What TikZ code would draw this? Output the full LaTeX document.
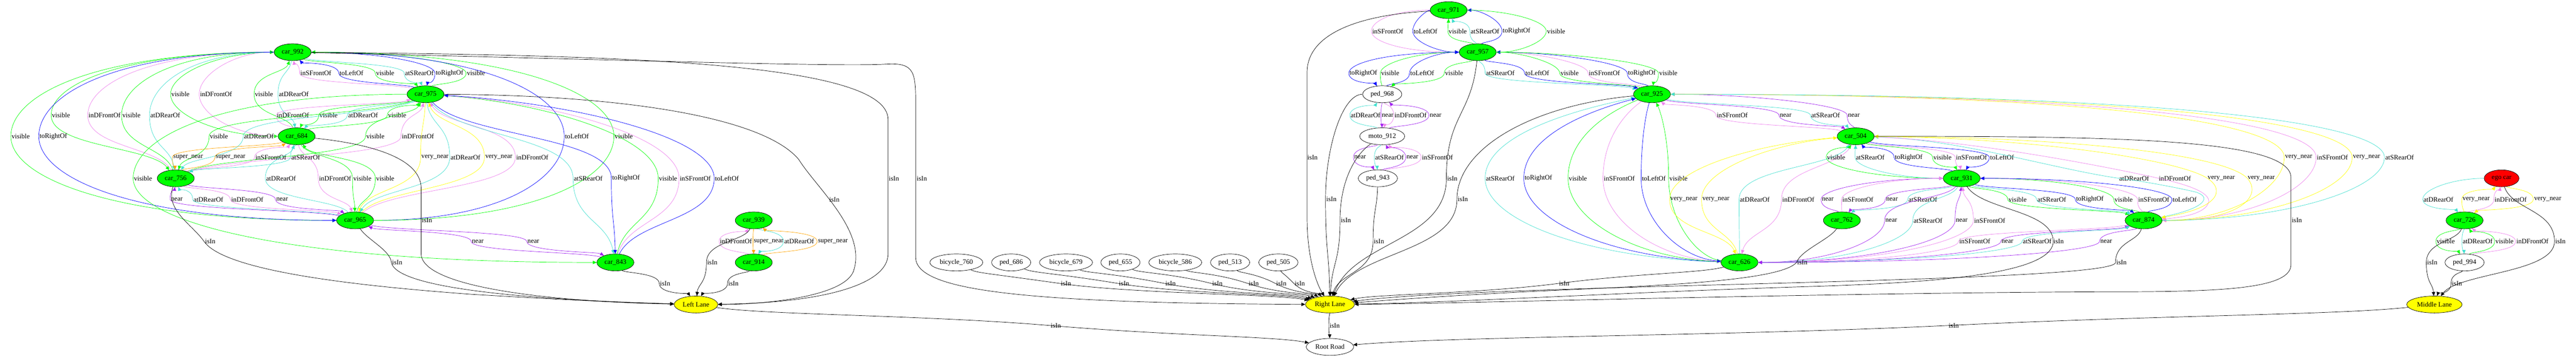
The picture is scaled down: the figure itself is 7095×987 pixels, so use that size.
\documentclass[tikz,border=0pt]{standalone}
\usepackage{fontspec}
\setmainfont{Liberation Serif}
\usetikzlibrary{shapes.geometric,arrows.meta,calc}
\definecolor{gG}{RGB}{0,255,0}
\definecolor{gB}{RGB}{0,0,255}
\definecolor{gV}{RGB}{238,130,238}
\definecolor{gT}{RGB}{64,224,208}
\definecolor{gP}{RGB}{160,32,240}
\definecolor{gO}{RGB}{255,165,0}
\definecolor{gY}{RGB}{255,255,0}
\definecolor{gR}{RGB}{255,0,0}
\newcount\ecnt
\def\fa{0.2}\def\fb{0.5}\def\ga{0.2}\def\gb{0.5}\def\ta{0}\def\tb{0.25}
\newcommand\Efac[4]{\def\fa{#1}\def\fb{#2}\def\ga{#3}\def\gb{#4}}
\newcommand\Edg[6]{%
  \global\advance\ecnt by 1\relax
  \node[lbl] (el\the\ecnt) at (#5,#6) {#4};
  \draw[ed,#1] let \p1=(#2), \p2=($(el\the\ecnt.west)+(-2,0)$), \p3=(#3) in
    (#2) .. controls ({\x1+\fa*(\x2-\x1)},{\y1+\fb*(\y2-\y1)}) and ({\x2-\ta*(\x3-\x1)},{\y2-\tb*(\y3-\y1)}) .. (\x2,\y2)
    .. controls ({\x2+\ta*(\x3-\x1)},{\y2+\tb*(\y3-\y1)}) and ({\x3+\ga*(\x2-\x3)},{\y3+\gb*(\y2-\y3)}) .. (#3);}
\newcommand\Epth[7]{%
  \global\advance\ecnt by 1\relax
  \node[lbl] (el\the\ecnt) at (#5,#6) {#4};
  \draw[ed,#1] (#2) #7 (#3);}
\tikzset{
  nd/.style={ellipse, draw=black, line width=0.75pt, inner xsep=4.5pt, inner ysep=0pt,
    minimum height=35pt, minimum width=54pt, font=\fontsize{14pt}{16pt}\selectfont},
  car/.style={nd, fill=gG},
  lane/.style={nd, fill=gY},
  egon/.style={nd, fill=gR, minimum width=72pt},
  obj/.style={nd, fill=white},
  lbl/.style={inner sep=0pt, font=\fontsize{14pt}{16pt}\selectfont},
  ed/.style={line width=0.75pt, -{Triangle[length=8pt,width=7pt]}},
}
\begin{document}
\begin{tikzpicture}[x=0.75pt,y=-0.75pt]
\useasboundingbox (0,0) rectangle (7095,987);
\fill[white] (0,0) rectangle (7095,987);
% ---------------- nodes
\node[car] (c992) at (806,144) {car\_992};
\node[car] (c975) at (1172,260) {car\_975};
\node[car] (c684) at (817,376) {car\_684};
\node[car] (c756) at (484,492) {car\_756};
\node[car] (c965) at (978,608) {car\_965};
\node[car] (c843) at (1695,724) {car\_843};
\node[car] (c939) at (2076,608) {car\_939};
\node[car] (c914) at (2076,724) {car\_914};
\node[lane] (ll) at (1917,840) {Left Lane};
\node[obj] (b760) at (2634,724) {bicycle\_760};
\node[obj] (p686) at (2785,724) {ped\_686};
\node[obj] (b679) at (2936,724) {bicycle\_679};
\node[obj] (p655) at (3086,724) {ped\_655};
\node[obj] (b586) at (3237,724) {bicycle\_586};
\node[obj] (p513) at (3388,724) {ped\_513};
\node[obj] (p505) at (3521,724) {ped\_505};
\node[lane] (rl) at (3663,840) {Right Lane};
\node[obj] (rr) at (3663,957) {Root Road};
\node[car] (c971) at (3990,28) {car\_971};
\node[car] (c957) at (4070,144) {car\_957};
\node[obj] (p968) at (3807,260) {ped\_968};
\node[obj] (m912) at (3807,376) {moto\_912};
\node[obj] (p943) at (3795,492) {ped\_943};
\node[car] (c925) at (4550,260) {car\_925};
\node[car] (c504) at (5111,376) {car\_504};
\node[car] (c762) at (5073,608) {car\_762};
\node[car] (c626) at (4791,724) {car\_626};
\node[car] (c931) at (5403,492) {car\_931};
\node[car] (c874) at (5904,608) {car\_874};
\node[egon] (ego) at (6890,492) {ego car};
\node[car] (c726) at (6788,608) {car\_726};
\node[obj] (p994) at (6788,724) {ped\_994};
\node[lane] (ml) at (6705,840) {Middle Lane};
% ---------------- left cluster
\Edg{gV}{c975}{c992}{inSFrontOf}{870}{202}
\Edg{gB}{c975}{c992}{toLeftOf}{968}{202}
\Edg{gG}{c992}{c975}{visible}{1061}{202}
\Edg{gT}{c992}{c975}{atSRearOf}{1155}{202}
{\Efac{0.6}{0}{0.2}{0.5}\Edg{gB}{c992}{c975}{toRightOf}{1238}{202}}
{\Efac{0.2}{0.5}{0.6}{0}\Edg{gG}{c975}{c992}{visible}{1311}{202}}
{\Efac{0.6}{0}{0.6}{0}\Edg{gG}{c992}{c684}{visible}{497}{260}}
{\Efac{0.6}{0}{0.6}{0}\Edg{gV}{c684}{c992}{inDFrontOf}{595}{260}}
\Edg{gG}{c684}{c992}{visible}{727}{260}
\Edg{gT}{c992}{c684}{atDRearOf}{809}{260}
{\Efac{0.7}{0}{0.2}{0.5}\Edg{gG}{c992}{c756}{visible}{168}{318}}
{\Efac{0.2}{0.5}{0.7}{0}\Edg{gV}{c756}{c992}{inDFrontOf}{288}{318}}
{\Efac{0.2}{0.5}{0.7}{0}\Edg{gG}{c756}{c992}{visible}{362}{318}}
{\Efac{0.7}{0}{0.2}{0.5}\Edg{gT}{c992}{c756}{atDRearOf}{455}{318}}
\Edg{gV}{c684}{c975}{inDFrontOf}{807}{318}
\Edg{gG}{c975}{c684}{visible}{905}{318}
\Edg{gT}{c975}{c684}{atDRearOf}{1000}{318}
\Edg{gG}{c684}{c975}{visible}{1094}{318}
{\Efac{0.7}{0}{0.7}{0}\Edg{gG}{c992}{c965}{visible}{57}{376}}
{\Efac{0.7}{0}{0.7}{0}\Edg{gB}{c992}{c965}{toRightOf}{147}{376}}
{\Efac{0.7}{0}{0.7}{0}\Edg{gB}{c965}{c992}{toLeftOf}{1589}{376}}
{\Efac{0.7}{0}{0.7}{0}\Edg{gG}{c965}{c992}{visible}{1718}{376}}
\Edg{gG}{c975}{c756}{visible}{603}{376}
\Edg{gT}{c975}{c756}{atDRearOf}{713}{376}
\Edg{gG}{c756}{c975}{visible}{1034}{376}
\Edg{gV}{c756}{c975}{inDFrontOf}{1151}{376}
\Edg{gO}{c684}{c756}{super\_near}{518}{434}
\Edg{gO}{c756}{c684}{super\_near}{635}{434}
\Edg{gV}{c756}{c684}{inSFrontOf}{746}{434}
\Edg{gT}{c684}{c756}{atSRearOf}{842}{434}
\Edg{gY}{c975}{c965}{very\_near}{1198}{434}
\Edg{gT}{c975}{c965}{atDRearOf}{1282}{434}
\Edg{gY}{c965}{c975}{very\_near}{1374}{434}
\Edg{gV}{c965}{c975}{inDFrontOf}{1466}{434}
\Edg{gT}{c965}{c684}{atDRearOf}{774}{492}
\Edg{gV}{c684}{c965}{inDFrontOf}{923}{492}
\Edg{gG}{c684}{c965}{visible}{998}{492}
\Edg{gG}{c965}{c684}{visible}{1061}{492}
{\Efac{0.7}{0}{0.7}{0}\Edg{gG}{c975}{c843}{visible}{394}{492}}
\Edg{gT}{c975}{c843}{atSRearOf}{1620}{492}
\Edg{gB}{c975}{c843}{toRightOf}{1724}{492}
{\Efac{0.2}{0.5}{0.5}{0.1}\Edg{gG}{c843}{c975}{visible}{1840}{492}}
{\Efac{0.2}{0.5}{0.5}{0.1}\Edg{gV}{c843}{c975}{inSFrontOf}{1915}{492}}
{\Efac{0.2}{0.5}{0.5}{0.1}\Edg{gB}{c843}{c975}{toLeftOf}{2002}{492}}
\Edg{gP}{c965}{c756}{near}{487}{550}
\Edg{gT}{c965}{c756}{atDRearOf}{574}{550}
\Edg{gV}{c756}{c965}{inDFrontOf}{681}{550}
\Edg{gP}{c756}{c965}{near}{777}{550}
\Edg{gP}{c843}{c965}{near}{1316}{666}
\Edg{gP}{c965}{c843}{near}{1469}{666}
\Edg{gV}{c914}{c939}{inDFrontOf}{2027}{666}
\Edg{gO}{c939}{c914}{super\_near}{2117}{666}
\Edg{gT}{c939}{c914}{atDRearOf}{2201}{666}
\Edg{gO}{c914}{c939}{super\_near}{2294}{666}
% isIn left
\Epth{black}{c992}{ll}{isIn}{2462}{492}{.. controls (1700,152) and (2446,170) .. (2446,330) -- (2446,700) .. controls (2446,790) and (2250,836) ..}
\Epth{black}{c992}{rl}{isIn}{2539}{492}{.. controls (1600,162) and (2300,185) .. (2440,177) .. controls (2522,172) and (2522,200) .. (2522,300) -- (2522,710) .. controls (2522,800) and (2800,836) ..}
\Epth{black}{c975}{ll}{isIn}{2298}{551}{.. controls (1700,262) and (2100,320) .. (2200,440) .. controls (2250,520) and (2390,640) .. (2350,750) .. controls (2320,820) and (2100,840) ..}
\Epth{black}{c684}{ll}{isIn}{1176}{608}{.. controls (1000,395) and (1160,430) .. (1160,520) -- (1160,700) .. controls (1160,790) and (1500,832) ..}
\Epth{black}{c756}{ll}{isIn}{579}{666}{.. controls (455,580) and (530,620) .. (562,666) .. controls (620,750) and (1000,790) .. (1300,812) .. controls (1600,830) and (1750,836) ..}
\Epth{black}{c965}{ll}{isIn}{1094}{724}{.. controls (1010,660) and (1075,690) .. (1078,724) .. controls (1090,790) and (1400,825) ..}
\Edg{black}{c843}{ll}{isIn}{1832}{782}
\Edg{black}{c939}{ll}{isIn}{1962}{724}
\Edg{black}{c914}{ll}{isIn}{2020}{782}
{\def\ta{0.2}\Edg{black}{ll}{rr}{isIn}{2908}{898}}
{\def\ta{0.2}
\Edg{black}{b760}{rl}{isIn}{2936}{782}
\Edg{black}{p686}{rl}{isIn}{3096}{782}
\Edg{black}{b679}{rl}{isIn}{3224}{782}
\Edg{black}{p655}{rl}{isIn}{3353}{782}
\Edg{black}{b586}{rl}{isIn}{3453}{782}
\Edg{black}{p513}{rl}{isIn}{3529}{782}
\Edg{black}{p505}{rl}{isIn}{3580}{782}
}
\Edg{black}{rl}{rr}{isIn}{3676}{898}
{\def\ta{0.2}\Edg{black}{ml}{rr}{isIn}{5381}{898}}
% ---------------- middle cluster
{\Efac{0.7}{0}{0.7}{0}\Edg{gV}{c971}{c957}{inSFrontOf}{3822}{86}}
{\Efac{0.6}{0}{0.6}{0}\Edg{gB}{c971}{c957}{toLeftOf}{3926}{86}}
\Edg{gG}{c957}{c971}{visible}{4015}{86}
\Edg{gT}{c957}{c971}{atSRearOf}{4090}{86}
{\Efac{0.2}{0.5}{0.6}{0}\Edg{gB}{c957}{c971}{toRightOf}{4177}{86}}
{\Efac{0.6}{0}{0.6}{0}\Edg{gG}{c971}{c957}{visible}{4286}{86}}
\Epth{black}{c971}{rl}{isIn}{3615}{434}{.. controls (3750,40) and (3600,90) .. (3600,200) -- (3600,600) .. controls (3600,720) and (3630,790) ..}
{\Efac{0.7}{0}{0.2}{0.5}\Edg{gB}{c957}{p968}{toRightOf}{3755}{202}}
{\Efac{0.2}{0.5}{0.6}{0}\Edg{gG}{p968}{c957}{visible}{3829}{202}}
{\Efac{0.2}{0.5}{0.6}{0}\Edg{gB}{p968}{c957}{toLeftOf}{3917}{202}}
\Edg{gG}{c957}{p968}{visible}{4005}{202}
\Edg{gT}{c957}{c925}{atSRearOf}{4132}{202}
\Edg{gB}{c957}{c925}{toLeftOf}{4234}{202}
{\Efac{0.2}{0.5}{0.5}{0}\Edg{gG}{c925}{c957}{visible}{4323}{202}}
{\Efac{0.2}{0.5}{0.5}{0}\Edg{gV}{c925}{c957}{inSFrontOf}{4419}{202}}
{\Efac{0.2}{0.5}{0.5}{0}\Edg{gB}{c925}{c957}{toRightOf}{4522}{202}}
{\Efac{0.5}{0}{0.2}{0.5}\Edg{gG}{c957}{c925}{visible}{4595}{202}}
\Edg{gT}{m912}{p968}{atDRearOf}{3761}{318}
\Edg{gP}{p968}{m912}{near}{3822}{318}
\Edg{gV}{p968}{m912}{inDFrontOf}{3885}{318}
\Edg{gP}{m912}{p968}{near}{3954}{318}
\Edg{gP}{m912}{p943}{near}{3746}{434}
\Edg{gT}{m912}{p943}{atSRearOf}{3827}{434}
\Edg{gP}{p943}{m912}{near}{3890}{434}
\Edg{gV}{p943}{m912}{inSFrontOf}{3959}{434}
{\Efac{0.7}{0}{0.2}{0.5}\Edg{black}{p968}{rl}{isIn}{3667}{550}}
{\Efac{0.6}{0.2}{0.2}{0.5}\Edg{black}{m912}{rl}{isIn}{3707}{608}}
\Edg{black}{p943}{rl}{isIn}{3798}{666}
\Edg{black}{c957}{rl}{isIn}{4000}{492}
{\Efac{0.6}{0.1}{0.2}{0.5}\Edg{black}{c925}{rl}{isIn}{4029}{550}}
\Edg{gV}{c504}{c925}{inSFrontOf}{4771}{318}
\Edg{gP}{c925}{c504}{near}{4918}{318}
\Edg{gT}{c925}{c504}{atSRearOf}{5028}{318}
{\Efac{0.2}{0.5}{0.5}{0}\Edg{gP}{c504}{c925}{near}{5106}{318}}
{\Efac{0.6}{0.05}{0.5}{0.2}\Edg{gT}{c626}{c925}{atSRearOf}{4132}{492}}
{\Efac{0.6}{0.05}{0.5}{0.2}\Edg{gB}{c626}{c925}{toRightOf}{4237}{492}}
{\Efac{0.5}{0.2}{0.6}{0.05}\Edg{gG}{c925}{c626}{visible}{4346}{492}}
{\Efac{0.5}{0.2}{0.6}{0.05}\Edg{gV}{c925}{c626}{inSFrontOf}{4460}{492}}
{\Efac{0.5}{0.2}{0.6}{0.05}\Edg{gB}{c925}{c626}{toLeftOf}{4555}{492}}
{\Efac{0.6}{0.05}{0.5}{0.2}\Edg{gG}{c626}{c925}{visible}{4623}{492}}
{\Efac{0.5}{0.1}{0.2}{0.5}\Edg{gY}{c504}{c626}{very\_near}{4638}{550}}
{\Efac{0.2}{0.5}{0.5}{0.1}\Edg{gY}{c626}{c504}{very\_near}{4726}{550}}
\Edg{gT}{c626}{c504}{atDRearOf}{4833}{550}
\Edg{gV}{c504}{c626}{inDFrontOf}{4953}{550}
{\Efac{0.6}{0}{0.2}{0.5}\Edg{gG}{c931}{c504}{visible}{5057}{434}}
{\Efac{0.6}{0}{0.2}{0.5}\Edg{gT}{c931}{c504}{atSRearOf}{5151}{434}}
\Edg{gB}{c931}{c504}{toRightOf}{5257}{434}
\Edg{gG}{c504}{c931}{visible}{5350}{434}
\Edg{gV}{c504}{c931}{inSFrontOf}{5430}{434}
\Edg{gB}{c504}{c931}{toLeftOf}{5514}{434}
{\Efac{0.2}{0.5}{0.6}{0}\Edg{gP}{c762}{c931}{near}{5034}{550}}
{\Efac{0.2}{0.5}{0.6}{0}\Edg{gV}{c762}{c931}{inSFrontOf}{5117}{550}}
\Edg{gP}{c931}{c762}{near}{5211}{550}
\Edg{gT}{c931}{c762}{atSRearOf}{5296}{550}
{\Efac{0.2}{0.5}{0.6}{0}\Edg{gP}{c931}{c626}{near}{5209}{608}}
{\Efac{0.2}{0.5}{0.6}{0}\Edg{gT}{c931}{c626}{atSRearOf}{5310}{608}}
{\Efac{0.6}{0}{0.2}{0.5}\Edg{gP}{c626}{c931}{near}{5403}{608}}
{\Efac{0.6}{0}{0.2}{0.5}\Edg{gV}{c626}{c931}{inSFrontOf}{5480}{608}}
\Edg{gG}{c931}{c874}{visible}{5557}{550}
\Edg{gT}{c931}{c874}{atSRearOf}{5651}{550}
\Edg{gB}{c931}{c874}{toRightOf}{5756}{550}
{\Efac{0.2}{0.5}{0.6}{0}\Edg{gG}{c874}{c931}{visible}{5849}{550}}
{\Efac{0.2}{0.5}{0.6}{0}\Edg{gV}{c874}{c931}{inSFrontOf}{5932}{550}}
{\Efac{0.2}{0.5}{0.6}{0}\Edg{gB}{c874}{c931}{toLeftOf}{6017}{550}}
{\Efac{0.2}{0.5}{0.6}{0}\Edg{gV}{c874}{c626}{inSFrontOf}{5439}{666}}
{\Efac{0.6}{0}{0.2}{0.5}\Edg{gP}{c626}{c874}{near}{5529}{666}}
{\Efac{0.6}{0}{0.2}{0.5}\Edg{gT}{c626}{c874}{atSRearOf}{5611}{666}}
{\Efac{0.2}{0.5}{0.6}{0}\Edg{gP}{c874}{c626}{near}{5801}{666}}
\Epth{gT}{c874}{c504}{atDRearOf}{5878}{492}{.. controls (6080,575) and (6095,540) .. (6040,528) .. controls (5960,510) and (5880,497) .. (5837,492) .. controls (5650,465) and (5400,385) ..}
\Epth{gV}{c504}{c874}{inDFrontOf}{5990}{492}{.. controls (5450,388) and (5850,470) .. (5946,492) .. controls (6030,510) and (6100,535) .. (6080,565) .. controls (6065,590) and (6010,600) ..}
\Epth{gY}{c504}{c874}{very\_near}{6118}{492}{.. controls (5600,380) and (6000,440) .. (6080,492) .. controls (6130,525) and (6110,575) ..}
\Epth{gY}{c874}{c504}{very\_near}{6228}{492}{.. controls (6160,612) and (6235,545) .. (6190,492) .. controls (6120,420) and (5650,378) ..}
{\Efac{0.75}{0}{0.6}{0}\Edg{gY}{c925}{c874}{very\_near}{6331}{434}}
{\Efac{0.75}{0}{0.6}{0}\Edg{gV}{c925}{c874}{inSFrontOf}{6424}{434}}
{\Efac{0.6}{0}{0.75}{0}\Edg{gY}{c874}{c925}{very\_near}{6518}{434}}
{\Efac{0.6}{0}{0.75}{0}\Edg{gT}{c874}{c925}{atSRearOf}{6609}{434}}
\Epth{black}{c931}{rl}{isIn}{5670}{666}{.. controls (5460,580) and (5655,580) .. (5655,666) .. controls (5655,760) and (5300,780) .. (5000,790) .. controls (4500,805) and (4000,835) ..}
\Edg{black}{c874}{rl}{isIn}{5843}{724}
\Epth{black}{c504}{rl}{isIn}{6326}{608}{.. controls (5800,376) and (6310,380) .. (6310,490) -- (6310,730) .. controls (6310,800) and (6100,805) .. (5800,805) .. controls (5000,808) and (4000,838) ..}
{\def\ta{0.2}\Edg{black}{c626}{rl}{isIn}{4308}{782}}
\Epth{black}{c762}{rl}{isIn}{4964}{724}{.. controls (5040,660) and (4960,690) .. (4948,724) .. controls (4900,780) and (4500,790) .. (4200,805) .. controls (3950,818) and (3800,830) ..}
% ---------------- ego cluster
{\Efac{0.6}{0}{0.2}{0.5}\Edg{gT}{ego}{c726}{atDRearOf}{6716}{550}}
\Edg{gY}{c726}{ego}{very\_near}{6820}{550}
\Edg{gV}{c726}{ego}{inDFrontOf}{6915}{550}
\Edg{gY}{ego}{c726}{very\_near}{7017}{550}
\Edg{gG}{c726}{p994}{visible}{6736}{666}
\Edg{gT}{c726}{p994}{atDRearOf}{6824}{666}
\Edg{gG}{p994}{c726}{visible}{6898}{666}
\Edg{gV}{p994}{c726}{inDFrontOf}{6975}{666}
\Edg{black}{ego}{ml}{isIn}{7052}{666}
\Edg{black}{c726}{ml}{isIn}{6699}{724}
\Edg{black}{p994}{ml}{isIn}{6767}{782}
\end{tikzpicture}
\end{document}
